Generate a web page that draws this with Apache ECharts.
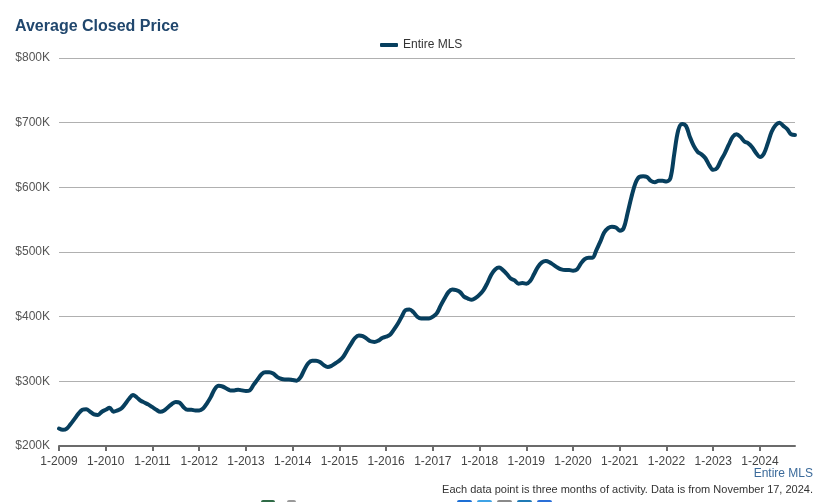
<!DOCTYPE html>
<html>
<head>
<meta charset="utf-8">
<script src="https://cdn.jsdelivr.net/npm/echarts@6/dist/echarts.min.js"></script>
<style>
html,body{margin:0;padding:0;background:#fff;}
#chart{width:821px;height:502px;}
</style>
</head>
<body>
<div id="chart"></div>
<script>
// Monthly values (thousands of $), Jan 2009 .. Oct 2024
const startYear = 2009;
const values = [
227,225,227,234,242,250,256,257,253,249,248,253,
256,259,253,255,258,265,273,279,275,270,267,264,
260,256,253,255,260,265,268,267,260,256,256,255,
255,258,266,276,288,293,292,289,286,286,287,286,
285,286,295,303,311,314,314,312,307,304,303,303,
302,301,306,318,328,332,332,330,325,322,324,328,
332,338,348,358,367,371,370,366,362,361,363,367,
369,372,380,389,400,410,411,407,400,397,397,397,
400,405,417,428,438,442,441,438,431,428,426,429,
434,441,452,465,473,476,472,466,459,456,451,452,
451,455,466,477,484,486,484,480,476,473,472,472,
471,473,482,489,491,491,503,516,530,537,539,538,
533,537,560,585,606,616,617,616,610,608,610,610,
609,614,652,688,698,695,678,664,655,651,645,634,
627,630,642,653,666,678,682,678,671,668,662,653,
647,652,668,686,696,700,695,690,682,681
];
const categories = values.map((v, i) => ((i % 12) + 1) + '-' + (startYear + Math.floor(i / 12)));
const seriesName = 'Entire MLS';
const titleText = 'Average Closed Price';
const footSource = 'Entire MLS';
const footNote = 'Each data point is three months of activity. Data is from November 17, 2024.';
const yMin = 200000, yMax = 800000, yStep = 100000;

const chart = echarts.init(document.getElementById('chart'), null, {renderer: 'canvas'});
const isYear = (i) => i % 12 === 0;
const font = '"Liberation Sans", Arial, Helvetica, sans-serif';
chart.setOption({
  animation: false,
  backgroundColor: '#ffffff',
  textStyle: {fontFamily: font},
  title: {
    text: titleText,
    left: 10, top: 14,
    textStyle: {fontSize: 16, fontWeight: 'bold', color: '#21476d', fontFamily: font}
  },
  legend: {
    data: [seriesName],
    top: 34, left: 375,
    itemWidth: 18, itemHeight: 4,
    icon: 'roundRect',
    itemGap: 10,
    textStyle: {fontSize: 12, color: '#333', fontFamily: font}
  },
  grid: {left: 59, right: 26, top: 58, bottom: 56, containLabel: false},
  xAxis: {
    type: 'category',
    data: categories,
    boundaryGap: false,
    axisLine: {show: true, lineStyle: {color: '#6b6b6b', width: 2}},
    axisTick: {show: true, length: 5, interval: (i) => isYear(i), lineStyle: {color: '#6b6b6b', width: 2}},
    axisLabel: {interval: (i) => isYear(i), color: '#444', fontSize: 12, margin: 10, fontFamily: font},
    splitLine: {show: false}
  },
  yAxis: {
    type: 'value',
    min: yMin, max: yMax, interval: yStep,
    axisLine: {show: false},
    axisTick: {show: false},
    axisLabel: {formatter: (v) => '$' + (v / 1000) + 'K', color: '#555', fontSize: 12, margin: 9, fontFamily: font},
    splitLine: {lineStyle: {color: '#b0b0b0', width: 1}}
  },
  series: [{
    name: seriesName,
    type: 'line',
    data: values.map(v => v * 1000),
    smooth: 0.35,
    showSymbol: false,
    symbol: 'none',
    lineStyle: {color: '#073f5e', width: 4, cap: 'round', join: 'round'},
    itemStyle: {color: '#073f5e'},
    z: 5
  }],
  graphic: [
    {type: 'text', right: 8, top: 468, style: {text: footSource, fill: '#3b6a9a', font: '12px ' + font}},
    {type: 'text', right: 8, top: 484, style: {text: footNote, fill: '#333', font: '11px ' + font}},
    {type: 'rect', shape: {x: 261, y: 500, width: 14, height: 8, r: 2}, style: {fill: '#2f6b46'}},
    {type: 'rect', shape: {x: 287, y: 500, width: 9, height: 8, r: 2}, style: {fill: '#9a9a9a'}},
    {type: 'rect', shape: {x: 457, y: 500, width: 15, height: 8, r: 2}, style: {fill: '#1d6fd6'}},
    {type: 'rect', shape: {x: 477, y: 500, width: 15, height: 8, r: 2}, style: {fill: '#3fa3e6'}},
    {type: 'rect', shape: {x: 497, y: 500, width: 15, height: 8, r: 2}, style: {fill: '#8a8a8a'}},
    {type: 'rect', shape: {x: 517, y: 500, width: 15, height: 8, r: 2}, style: {fill: '#1f7ab5'}},
    {type: 'rect', shape: {x: 537, y: 500, width: 15, height: 8, r: 2}, style: {fill: '#2a6fd8'}}
  ]
});
</script>
</body>
</html>
